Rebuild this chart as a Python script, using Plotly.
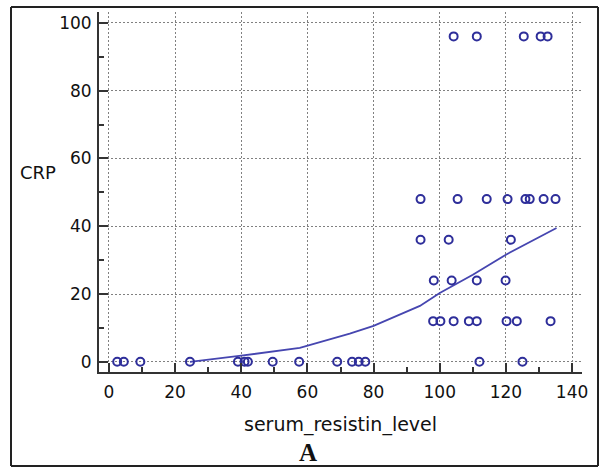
import plotly.graph_objects as go

# Scatter data: serum resistin level (x) vs CRP (y)
resistin = [2.5, 4.5, 9.5, 24.5, 39, 41, 42, 49.5, 57.5, 69, 73.5, 75.5, 77.5, 112, 125,
            98, 100.2, 104.2, 108.8, 111.2, 120.2, 123.3, 133.5,
            98.2, 103.6, 111.2, 119.9,
            94.2, 102.7, 121.5,
            94.2, 105.4, 114.2, 120.5, 125.9, 127.2, 131.4, 135,
            104.2, 111.2, 125.4, 130.5, 132.6]
crp = [0, 0, 0, 0, 0, 0, 0, 0, 0, 0, 0, 0, 0, 0, 0,
       12, 12, 12, 12, 12, 12, 12, 12,
       24, 24, 24, 24,
       36, 36, 36,
       48, 48, 48, 48, 48, 48, 48, 48,
       96, 96, 96, 96, 96]

# Smoothed fit line
fit_x = [24.5, 40, 57.7, 72.8, 80, 94, 100, 110, 120, 135.3]
fit_y = [0, 1.8, 4.1, 8.3, 10.6, 16.5, 20.3, 25.7, 31.6, 39.5]

x_ticks = [0, 20, 40, 60, 80, 100, 120, 140]
y_ticks = [0, 20, 40, 60, 80, 100]

blue = "#2e2e9a"
FONT = "DejaVu Sans, Verdana, sans-serif"

fig = go.Figure()
fig.add_trace(go.Scatter(x=fit_x, y=fit_y, mode="lines",
                         line=dict(color="#4646b0", width=1.8), hoverinfo="skip"))
fig.add_trace(go.Scatter(x=resistin, y=crp, mode="markers",
                         marker=dict(symbol="circle-open", size=8, color=blue,
                                     line=dict(width=2, color=blue))))

axis_common = dict(
    showgrid=True, gridcolor="#808080", griddash="2px,2px", gridwidth=1,
    zeroline=False, showline=True, linecolor="#333333", linewidth=2,
    ticks="inside", ticklen=9, tickwidth=2, tickcolor="#333333",
    tickfont=dict(family=FONT, size=17, color="#111111"),
)

W, H = 600, 468
L, R, T, B = 99, 18, 12, 96
pw, ph = W - L - R, H - T - B


def px(xp):
    return (xp - L) / pw


def py(yp):
    return (H - B - yp) / ph


fx0, fx1, fy0, fy1 = px(11), px(598), py(466), py(7)
frame_lines = []
for (a, b, c, d) in [(fx0, fy0, fx1, fy0), (fx0, fy1, fx1, fy1),
                     (fx0, fy0, fx0, fy1), (fx1, fy0, fx1, fy1)]:
    frame_lines.append(dict(type="line", xref="paper", yref="paper",
                            x0=a, y0=b, x1=c, y1=d,
                            line=dict(color="#222222", width=2)))

fig.update_layout(
    width=W, height=H,
    paper_bgcolor="white", plot_bgcolor="white",
    margin=dict(l=L, r=R, t=T, b=B),
    showlegend=False,
    xaxis=dict(range=[-3, 143], tickvals=x_ticks, ticklabelstandoff=4,
               minor=dict(dtick=10, tick0=0, ticks="inside", ticklen=5,
                          tickwidth=1.5, tickcolor="#333333", showgrid=False),
               **axis_common),
    yaxis=dict(range=[-3, 103.2], tickvals=y_ticks, ticklabelstandoff=2,
               minor=dict(dtick=10, tick0=0, ticks="inside", ticklen=5,
                          tickwidth=1.5, tickcolor="#333333", showgrid=False),
               **axis_common),
    shapes=frame_lines,
    annotations=[
        dict(text="CRP", xref="paper", yref="paper", x=px(38), y=py(172),
             showarrow=False, xanchor="center", yanchor="middle",
             font=dict(family=FONT, size=18, color="#111111")),
        dict(text="serum_resistin_level", xref="paper", yref="paper", x=px(340),
             y=py(424), showarrow=False, xanchor="center", yanchor="middle",
             font=dict(family=FONT, size=19, color="#111111")),
        dict(text="<b>A</b>", xref="paper", yref="paper", x=px(308),
             y=py(452), showarrow=False, xanchor="center", yanchor="middle",
             font=dict(family="Liberation Serif, Times New Roman", size=25, color="#111111")),
    ],
)

fig.write_html("out.html", config={"displayModeBar": False},
               post_script="document.body.style.margin='0';document.body.style.overflow='hidden';")
